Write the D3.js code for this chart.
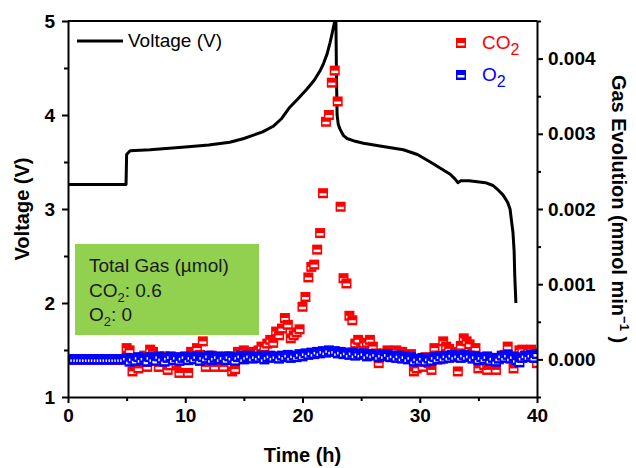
<!DOCTYPE html>
<html>
<head>
<meta charset="utf-8">
<script src="https://cdn.jsdelivr.net/npm/d3@7/dist/d3.min.js"></script>
<style>
    body { margin: 0; background: #fff; }
    svg { display: block; font-family: "Liberation Sans", Arial, sans-serif; }
    .axis path, .axis line { stroke: #000; stroke-width: 2; }
    .axis text { font-size: 19px; font-weight: bold; fill: #000; font-family: "Liberation Sans", Arial, sans-serif; }
</style>
</head>
<body>
<svg id="chart" width="636" height="468"></svg>
<script>
// cell voltage during charge / discharge (hours, V)
var voltageTime = [0, 4.95, 5.0, 5.3, 7, 10, 12, 13.8, 15, 16.6,
    17.5, 18.2, 18.9, 19.6, 20.4, 21.0, 21.5, 21.8, 22.1, 22.35,
    22.55, 22.75, 22.85, 22.9, 22.95, 23.05, 23.2, 23.5, 23.8, 24.5,
    25.2, 26.6, 28.6, 29.8, 30.9, 31.8, 32.6, 33.0, 33.25, 33.5,
    34.2, 34.9, 35.6, 36.25, 36.7, 37.1, 37.5, 37.7, 37.85, 37.95,
    38.05, 38.1, 38.2];
var voltageValue = [3.26, 3.26, 3.58, 3.62, 3.63, 3.66, 3.68, 3.71, 3.75, 3.82,
    3.88, 3.96, 4.08, 4.17, 4.28, 4.37, 4.47, 4.55, 4.65, 4.77,
    4.88, 5.0, 5.0, 4.4, 4.0, 3.9, 3.85, 3.78, 3.75, 3.72,
    3.70, 3.67, 3.63, 3.58, 3.50, 3.43, 3.37, 3.32, 3.28, 3.30,
    3.30, 3.29, 3.28, 3.25, 3.20, 3.15, 3.07, 3.00, 2.85, 2.75,
    2.55, 2.3, 2.0];

// gas sampled every 15 min starting at 0 h
var gasStepHours = 0.25;

// evolution rates in 10^-3 mmol min^-1, one row per hour
var co2Rate = [
    0, 0, 0, 0,  0, 0, 0, 0,  0, 0, 0, 0,  0, 0, 0, 0,  0, 0, 0, 0,
    0.15, 0.12, -0.16, -0.05,  -0.12, 0.02, 0.05, -0.10,  0.13, 0.10, 0.03, -0.10,
    0.00, 0.04, -0.14, -0.08,  0.02, -0.05, -0.18, 0.00,  0.03, -0.18, 0.10, 0.05,
    0.15, 0.06, 0.24, -0.10,  0.02, 0.05, -0.10, 0.00,  0.03, -0.10, 0.04, 0.00,
    -0.16, -0.13, 0.10, 0.05,  0.12, 0.08, 0.03, 0.10,  0.06, 0.12, 0.17, 0.16,
    0.21, 0.26, 0.22, 0.37,  0.32, 0.41, 0.55, 0.46,  0.28, 0.32, 0.36, 0.40,
    0.70, 0.83, 1.09, 1.23,  1.26, 1.46, 1.68, 2.21,  3.16, 3.25, 3.68, 3.84,
    3.43, 2.03, 1.08, 1.01,  0.58, 0.52, 0.21, 0.26,  0.15, 0.21, 0.22, 0.26,
    0.17, 0.08, -0.05, 0.05,  0.08, 0.12, 0.06, 0.03,  0.12, 0.04, 0.10, 0.02,
    0.06, 0.07, -0.16, -0.12,  0.00, -0.10, 0.03, -0.05,  -0.14, 0.15, 0.05, 0.00,
    0.24, 0.17, 0.14, 0.05,  0.10, -0.16, 0.18, 0.28,  0.24, 0.20, 0.08, 0.15,
    -0.12, 0.00, -0.08, -0.14,  0.02, -0.05, -0.14, 0.00,  0.04, 0.06, 0.17, 0.02,
    -0.12, 0.03, 0.12, 0.13,  0.05, 0.12, 0.13, 0.08,
    -0.05];
var o2Rate = [
    0, 0, 0, 0,  0, 0, 0, 0,  0, 0, 0, 0,  0, 0, 0, 0,  0, 0, 0, 0,
    0.02, -0.03, 0.01, -0.02,  0.03, -0.01, 0.02, -0.03,  0.03, 0.00, -0.02, 0.04,
    0.01, -0.03, 0.02, 0.04,  -0.01, 0.03, -0.02, 0.02,  0.04, -0.01, 0.03, 0.00,
    0.04, -0.02, 0.03, 0.01,  0.05, -0.01, 0.02, 0.04,  0.00, 0.03, -0.01, 0.04,
    0.02, -0.02, 0.03, 0.05,  0.00, 0.03, 0.05, 0.01,  0.04, 0.02, 0.05, 0.00,
    0.03, 0.05, 0.02, 0.04,  0.01, 0.05, 0.03, 0.06,  0.02, 0.05, 0.03, 0.07,
    0.04, 0.08, 0.06, 0.09,  0.07, 0.10, 0.08, 0.11,  0.09, 0.12, 0.10, 0.11,
    0.08, 0.10, 0.07, 0.09,  0.06, 0.09, 0.05, 0.08,  0.06, 0.08, 0.04, 0.07,
    0.05, 0.07, 0.03, 0.06,  0.04, 0.07, 0.03, 0.05,  0.02, 0.05, 0.01, 0.04,
    0.00, 0.03, -0.03, 0.01,  -0.02, 0.02, -0.03, 0.01,  -0.02, 0.03, 0.00, 0.04,
    0.01, 0.05, 0.02, 0.06,  0.03, 0.05, 0.02, 0.06,  0.03, 0.05, 0.01, 0.04,
    -0.01, 0.03, 0.00, 0.04,  -0.02, 0.02, -0.03, 0.01,  0.05, 0.02, 0.06, 0.01,
    0.04, -0.01, -0.04, 0.02,  0.05, 0.03, 0.06, 0.02,
    0.07];

var timeTicks = [0, 10, 20, 30, 40];
var timeMinorTicks = [5, 15, 25, 35];
var voltageTicks = [1, 2, 3, 4, 5];
var voltageMinorTicks = [1.5, 2.5, 3.5, 4.5];
var gasTicks = [0, 0.001, 0.002, 0.003, 0.004];
var gasMinorTicks = [-0.0005, 0.0005, 0.0015, 0.0025, 0.0035, 0.0045];

// box with integrated gas amounts (µmol)
var totalGasTitle = "Total Gas (\u00b5mol)";
var totalGasNames = ["CO", "O"];
var totalGasValues = ["0.6", "0"];

var svg = d3.select("#chart"),
    LEFT = 68, RIGHT = 537, TOP = 21, BOTTOM = 397,
    RED = "#ff0000", BLUE = "#0000ff";

var x = d3.scaleLinear().domain([0, 40]).range([LEFT, RIGHT]);
var yV = d3.scaleLinear().domain([1, 5]).range([BOTTOM, TOP]);
var yG = d3.scaleLinear().domain([-0.0005, 0.0045]).range([BOTTOM, TOP]);

svg.append("defs").append("clipPath")
    .attr("id", "plotClip")
    .append("rect")
    .attr("x", LEFT)
    .attr("y", TOP - 1)
    .attr("width", RIGHT - LEFT)
    .attr("height", BOTTOM - TOP + 1);

// green summary box
var box = svg.append("g");
box.append("rect")
    .attr("x", 75)
    .attr("y", 244)
    .attr("width", 184)
    .attr("height", 91)
    .attr("fill", "#92d050");
box.append("text")
    .attr("x", 89)
    .attr("y", 272)
    .attr("font-size", 19)
    .attr("fill", "#1a1a1a")
    .text(totalGasTitle);
totalGasNames.forEach(function (name, i) {
    var t = box.append("text")
        .attr("x", 89)
        .attr("y", 297 + i * 24)
        .attr("font-size", 19)
        .attr("fill", "#1a1a1a");
    t.append("tspan").text(name);
    t.append("tspan").attr("dy", 5).attr("font-size", 13).text("2");
    t.append("tspan").attr("dy", -5).text(": " + totalGasValues[i]);
});

var plot = svg.append("g").attr("clip-path", "url(#plotClip)");

// voltage curve
var line = d3.line()
    .x(function (d) { return x(d[0]); })
    .y(function (d) { return yV(d[1]); });

plot.append("path")
    .datum(voltageTime.map(function (t, i) { return [t, voltageValue[i]]; }))
    .attr("d", line)
    .attr("fill", "none")
    .attr("stroke", "#000")
    .attr("stroke-width", 3)
    .attr("stroke-linejoin", "round");

/* Square marker with the small white bar the original plot shows.
 */
function marker(sel, color) {
    sel.append("rect")
        .attr("x", -5).attr("y", -5)
        .attr("width", 10).attr("height", 10)
        .attr("fill", color);
    sel.append("rect")
        .attr("x", -3.5).attr("y", 0)
        .attr("width", 7).attr("height", 2.5)
        .attr("fill", "#fff");
}

function drawGas(rates, color) {
    plot.append("g")
        .selectAll("g")
        .data(rates)
        .enter()
        .append("g")
        .attr("transform", function (d, i) {
            return "translate(" + x(i * gasStepHours) + "," + yG(d * 1e-3) + ")";
        })
        .each(function () { marker(d3.select(this), color); });
}

drawGas(co2Rate, RED);
drawGas(o2Rate, BLUE);

// frame
svg.append("line")
    .attr("x1", LEFT).attr("x2", RIGHT)
    .attr("y1", TOP).attr("y2", TOP)
    .attr("stroke", "#000")
    .attr("stroke-width", 2);

// axes, major then minor ticks
svg.append("g")
    .attr("class", "axis")
    .attr("transform", "translate(0," + BOTTOM + ")")
    .call(d3.axisBottom(x).tickValues(timeTicks).tickSize(6).tickSizeOuter(0).tickPadding(6)
        .tickFormat(d3.format("d")));
svg.append("g")
    .attr("class", "axis minor")
    .attr("transform", "translate(0," + BOTTOM + ")")
    .call(d3.axisBottom(x).tickValues(timeMinorTicks).tickSize(4).tickFormat(""));

svg.append("g")
    .attr("class", "axis")
    .attr("transform", "translate(" + LEFT + ",0)")
    .call(d3.axisLeft(yV).tickValues(voltageTicks).tickSize(6).tickSizeOuter(0).tickPadding(7)
        .tickFormat(d3.format("d")));
svg.append("g")
    .attr("class", "axis minor")
    .attr("transform", "translate(" + LEFT + ",0)")
    .call(d3.axisLeft(yV).tickValues(voltageMinorTicks).tickSize(4).tickFormat(""));

svg.append("g")
    .attr("class", "axis")
    .attr("transform", "translate(" + RIGHT + ",0)")
    .call(d3.axisRight(yG).tickValues(gasTicks).tickSize(6).tickSizeOuter(0).tickPadding(5)
        .tickFormat(d3.format(".3f")));
svg.append("g")
    .attr("class", "axis minor")
    .attr("transform", "translate(" + RIGHT + ",0)")
    .call(d3.axisRight(yG).tickValues(gasMinorTicks).tickSize(4).tickFormat(""));

svg.selectAll(".minor .domain").remove();

// axis titles
svg.append("text")
    .attr("x", (LEFT + RIGHT) / 2)
    .attr("y", 462)
    .attr("text-anchor", "middle")
    .attr("font-size", 20)
    .attr("font-weight", "bold")
    .text("Time (h)");

svg.append("text")
    .attr("transform", "translate(29," + (TOP + BOTTOM) / 2 + ") rotate(-90)")
    .attr("text-anchor", "middle")
    .attr("font-size", 20)
    .attr("font-weight", "bold")
    .text("Voltage (V)");

var gasTitle = svg.append("text")
    .attr("transform", "translate(612," + (TOP + BOTTOM) / 2 + ") rotate(90)")
    .attr("text-anchor", "middle")
    .attr("font-size", 20)
    .attr("font-weight", "bold");
gasTitle.append("tspan").text("Gas Evolution (mmol min");
gasTitle.append("tspan").attr("dy", -8).attr("font-size", 13).text("\u22121");
gasTitle.append("tspan").attr("dy", 8).text(" )");

// legends
svg.append("line")
    .attr("x1", 77).attr("x2", 123)
    .attr("y1", 41).attr("y2", 41)
    .attr("stroke", "#000")
    .attr("stroke-width", 3);
svg.append("text")
    .attr("x", 128)
    .attr("y", 47)
    .attr("font-size", 19)
    .text("Voltage (V)");

[["CO", RED, 43], ["O", BLUE, 75]].forEach(function (item) {
    var g = svg.append("g").attr("transform", "translate(461," + item[2] + ")");
    marker(g, item[1]);
    var t = svg.append("text")
        .attr("x", 482)
        .attr("y", item[2] + 6)
        .attr("font-size", 19)
        .attr("fill", item[1]);
    t.append("tspan").text(item[0]);
    t.append("tspan").attr("dy", 6).attr("font-size", 16).text("2");
});
</script>
</body>
</html>
